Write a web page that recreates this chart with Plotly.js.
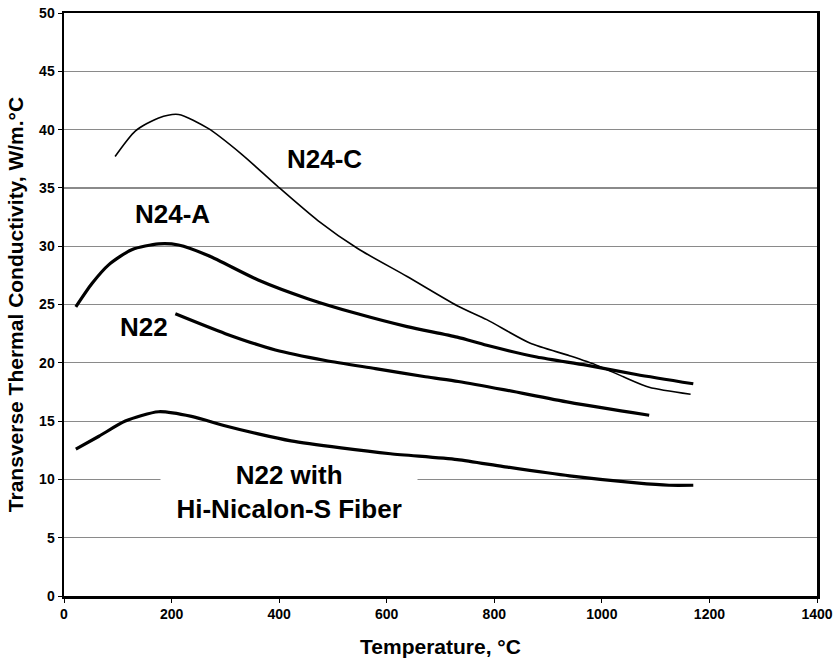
<!DOCTYPE html>
<html>
<head>
<meta charset="utf-8">
<script src="https://cdn.plot.ly/plotly-3.0.1.min.js"></script>
<style>html,body{margin:0;padding:0;background:#fff;}#chart{width:839px;height:665px;}</style>
</head>
<body>
<div id="chart"></div>
<script>
// N24-C (thin line)
const n24cX = [95, 133, 176, 213, 268, 330, 398, 472, 546, 638, 731, 786, 866, 940, 990, 1040, 1088, 1165];
const n24cY = [37.7, 39.9, 41.0, 41.3, 40.1, 37.9, 35.1, 32.2, 29.8, 27.4, 24.9, 23.7, 21.7, 20.6, 19.8, 18.8, 17.9, 17.3];
// N24-A
const n24aX = [22, 52, 83, 126, 176, 213, 268, 361, 453, 546, 638, 731, 786, 879, 971, 1064, 1170];
const n24aY = [24.8, 26.8, 28.4, 29.7, 30.2, 30.1, 29.2, 27.1, 25.5, 24.2, 23.1, 22.2, 21.5, 20.5, 19.8, 19.0, 18.2];
// N22
const n22X = [207, 300, 393, 486, 579, 672, 733, 817, 940, 1088];
const n22Y = [24.2, 22.5, 21.1, 20.2, 19.5, 18.8, 18.4, 17.7, 16.6, 15.5];
// N22 with Hi-Nicalon-S fiber
const hnX = [22, 65, 114, 176, 237, 299, 361, 422, 515, 607, 731, 817, 940, 1064, 1125, 1170];
const hnY = [12.6, 13.7, 15.0, 15.8, 15.4, 14.6, 13.9, 13.3, 12.7, 12.2, 11.7, 11.1, 10.3, 9.7, 9.5, 9.5];

const xTicks = [0, 200, 400, 600, 800, 1000, 1200, 1400];
const yTicks = [0, 5, 10, 15, 20, 25, 30, 35, 40, 45, 50];

const labelText = ["N24-C", "N24-A", "N22", "N22 with<br>&nbsp;&nbsp;Hi-Nicalon-S Fiber&nbsp;&nbsp;"];
const labelX = [485, 201, 149, 418];
const labelY = [37.5, 32.8, 23.1, 8.9];

const FONT = "'Liberation Sans', Arial, Helvetica, sans-serif";

function line(x, y, w) {
  return {x: x, y: y, type: 'scatter', mode: 'lines',
    line: {color: '#000', width: w, shape: 'spline', smoothing: 0.7},
    hoverinfo: 'skip', showlegend: false};
}

const data = [
  line(n24cX, n24cY, 1.6),
  line(n24aX, n24aY, 3.2),
  line(n22X, n22Y, 3.2),
  line(hnX, hnY, 3.2)
];

const annotations = labelText.map((t, i) => ({
  x: labelX[i], y: labelY[i], xref: 'x', yref: 'y', text: t, showarrow: false,
  font: {family: FONT, size: 26, color: '#000', weight: 'bold'},
  bgcolor: i === 3 ? '#fff' : 'rgba(0,0,0,0)', borderpad: 1
}));

const layout = {
  width: 839, height: 665,
  margin: {l: 64, r: 22, t: 13, b: 69},
  paper_bgcolor: '#fff', plot_bgcolor: '#fff',
  showlegend: false,
  font: {family: FONT, color: '#000'},
  xaxis: {
    range: [0, 1400], tickvals: xTicks, ticktext: xTicks.map(String),
    showgrid: false, zeroline: false,
    showline: true, linecolor: '#000', linewidth: 2.5, mirror: true,
    ticks: 'outside', ticklen: 4, tickcolor: '#000', tickwidth: 1,
    tickfont: {family: FONT, size: 14, weight: 'bold'},
    title: {text: 'Temperature, °C', font: {family: FONT, size: 21, weight: 'bold'}, standoff: 18}
  },
  yaxis: {
    range: [0, 50], tickvals: yTicks, ticktext: yTicks.map(String),
    showgrid: true, gridcolor: '#8a8a8a', gridwidth: 1.2, zeroline: false,
    showline: true, linecolor: '#000', linewidth: 2.5, mirror: true,
    ticks: 'outside', ticklen: 4, tickcolor: '#000', tickwidth: 1,
    tickfont: {family: FONT, size: 14, weight: 'bold'},
    title: {text: 'Transverse Thermal Conductivity, W/m.°C', font: {family: FONT, size: 21, weight: 'bold'}, standoff: 10}
  },
  annotations: annotations
};

Plotly.newPlot('chart', data, layout, {displayModeBar: false, staticPlot: true});
</script>
</body>
</html>
